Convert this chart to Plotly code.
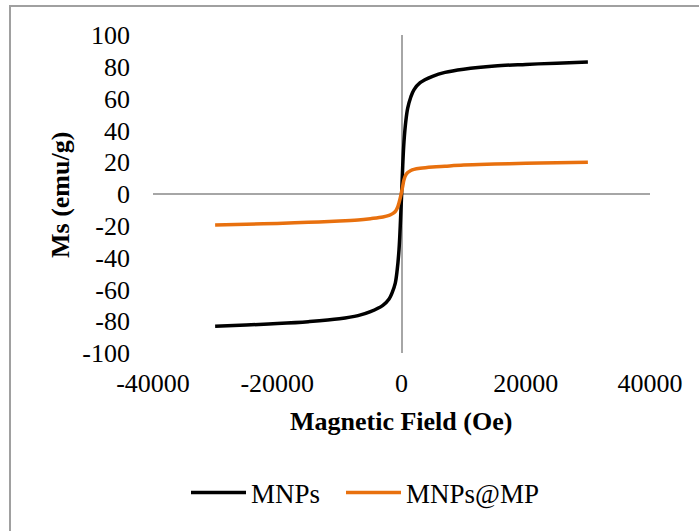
import plotly.graph_objects as go

field = [-30000, -25000, -20000, -15000, -10000, -7000, -5000, -3000, -2000, -1500,
         -1000, -700, -400, -200, 0, 200, 400, 700, 1000, 1500, 2000, 3000, 5000,
         7000, 10000, 15000, 20000, 25000, 30000]
mnps = [-83.2, -82.4, -81.5, -80.3, -78.5, -76.5, -74, -70, -66, -62, -56, -48, -35,
        -20, -2, 18, 33, 46, 54, 61, 65.5, 70, 74, 76.5, 78.5, 80.5, 81.5, 82.3, 83]
mnps_mp = [-19.5, -19, -18.5, -17.8, -17, -16.3, -15.5, -14.5, -13.5, -12.5, -11,
           -9, -5.5, -2.5, 1, 5, 9, 12, 13.5, 14.8, 15.5, 16.2, 17, 17.5, 18.2, 18.8,
           19.3, 19.7, 20]

x_ticks = [-40000, -20000, 0, 20000, 40000]
y_ticks = [-100, -80, -60, -40, -20, 0, 20, 40, 60, 80, 100]

font = "Liberation Serif, Times New Roman, serif"

fig = go.Figure()
fig.add_trace(go.Scatter(x=field, y=mnps, mode="lines", name="MNPs", legend="legend",
                         line=dict(color="#000000", width=3.5, shape="spline")))
fig.add_trace(go.Scatter(x=field, y=mnps_mp, mode="lines", name="MNPs@MP",
                         legend="legend2",
                         line=dict(color="#E8700E", width=3.5, shape="spline")))

leg_common = dict(orientation="h", xanchor="left", y=(353 - 493) / 318,
                  yanchor="middle", font=dict(size=27), itemwidth=55,
                  bgcolor="rgba(0,0,0,0)")

fig.update_layout(
    width=699, height=531,
    margin=dict(l=153, r=49, t=35, b=178),
    paper_bgcolor="white", plot_bgcolor="white",
    font=dict(family=font, size=26, color="#000000"),
    showlegend=True,
    legend=dict(x=(186 - 153) / 497, **leg_common),
    legend2=dict(x=(341 - 153) / 497, **leg_common),
    xaxis=dict(range=[-40000, 40000], tickvals=x_ticks,
               ticktext=[str(v) for v in x_ticks],
               showgrid=False, showline=False, zeroline=True,
               zerolinecolor="#a6a6a6", zerolinewidth=2, ticks="",
               ticklabelstandoff=12),
    yaxis=dict(range=[-100, 100], tickvals=y_ticks,
               ticktext=[str(v) for v in y_ticks],
               showgrid=False, showline=False, zeroline=True,
               zerolinecolor="#a6a6a6", zerolinewidth=2, ticks="",
               ticklabelstandoff=22),
)

fig.add_annotation(text="<b>Magnetic Field (Oe)</b>", xref="paper", yref="paper",
                   x=(401 - 153) / 497, y=(353 - 421) / 318, showarrow=False,
                   xanchor="center", yanchor="middle", font=dict(size=26))
fig.add_annotation(text="<b>Ms (emu/g)</b>", xref="paper", yref="paper",
                   x=(60 - 153) / 497, y=(353 - 195) / 318, showarrow=False,
                   textangle=-90, xanchor="center", yanchor="middle",
                   font=dict(size=26))

fig.add_shape(type="rect", xref="paper", yref="paper",
              x0=(10 - 153) / 497, x1=(712 - 153) / 497,
              y0=(353 - 545) / 318, y1=1 + (35 - 6) / 318,
              line=dict(color="#a0a0a0", width=2), layer="below")

fig.write_html("out.html", config={"displayModeBar": False},
               post_script="document.body.style.margin='0';document.body.style.padding='0';")
